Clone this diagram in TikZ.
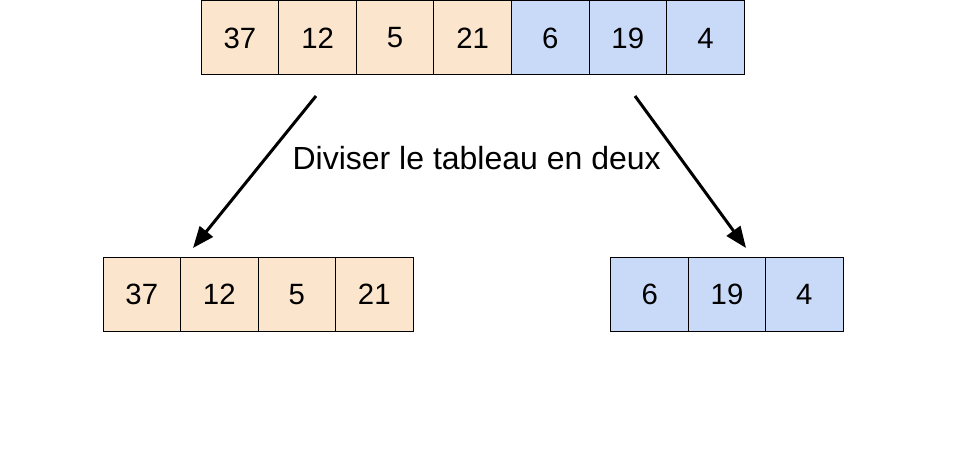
\documentclass[tikz,border=0pt]{standalone}
\usepackage{fontspec}
\setmainfont{Liberation Sans}
\usetikzlibrary{arrows.meta}
\definecolor{lightpeach}{RGB}{252, 229, 205}
\definecolor{lightblue}{RGB}{201, 218, 248}

\begin{document}
\begin{tikzpicture}[x=0.75pt, y=-0.75pt,
		cell/.style={draw, line width=0.75pt, minimum width=58.2pt, minimum height=55.5pt, inner sep=0pt, font=\fontsize{22}{26}\selectfont},
		split/.style={line width=2.25pt, -{Triangle[length=16pt, width=12.5pt]}}]
			\useasboundingbox (0,0) rectangle (960,449);
			% Cells - full array
			\node[cell, fill=lightpeach] (A1) at (240.0,38) {37};
			\node[cell, fill=lightpeach] (A2) at (317.6,38) {12};
			\node[cell, fill=lightpeach] (A3) at (395.1,38) {5};
			\node[cell, fill=lightpeach] (A4) at (472.7,38) {21};
			\node[cell, fill=lightblue] (A5) at (550.3,38) {6};
			\node[cell, fill=lightblue] (A6) at (627.8,38) {19};
			\node[cell, fill=lightblue] (A7) at (705.4,38) {4};
			
			% Cells - left half
			\node[cell, fill=lightpeach] (L1) at (141.8,294.5) {37};
			\node[cell, fill=lightpeach] (L2) at (219.3,294.5) {12};
			\node[cell, fill=lightpeach] (L3) at (296.8,294.5) {5};
			\node[cell, fill=lightpeach] (L4) at (374.3,294.5) {21};
			
			% Cells - right half
			\node[cell, fill=lightblue] (R1) at (649.7,294.5) {6};
			\node[cell, fill=lightblue] (R2) at (727.0,294.5) {19};
			\node[cell, fill=lightblue] (R3) at (804.3,294.5) {4};
			
			% Label
			\node[anchor=base, font=\fontsize{24}{29}\selectfont] (lbl) at (476.7,170) {Diviser le tableau en deux};
			
			% Arrows
			\coordinate (ls) at (316,96); \coordinate (le) at (193,248);
			\coordinate (rs) at (635,96); \coordinate (re) at (746,248);
			\draw[split] (ls) -- (le);
			\draw[split] (rs) -- (re);
		\end{tikzpicture}
\end{document}
